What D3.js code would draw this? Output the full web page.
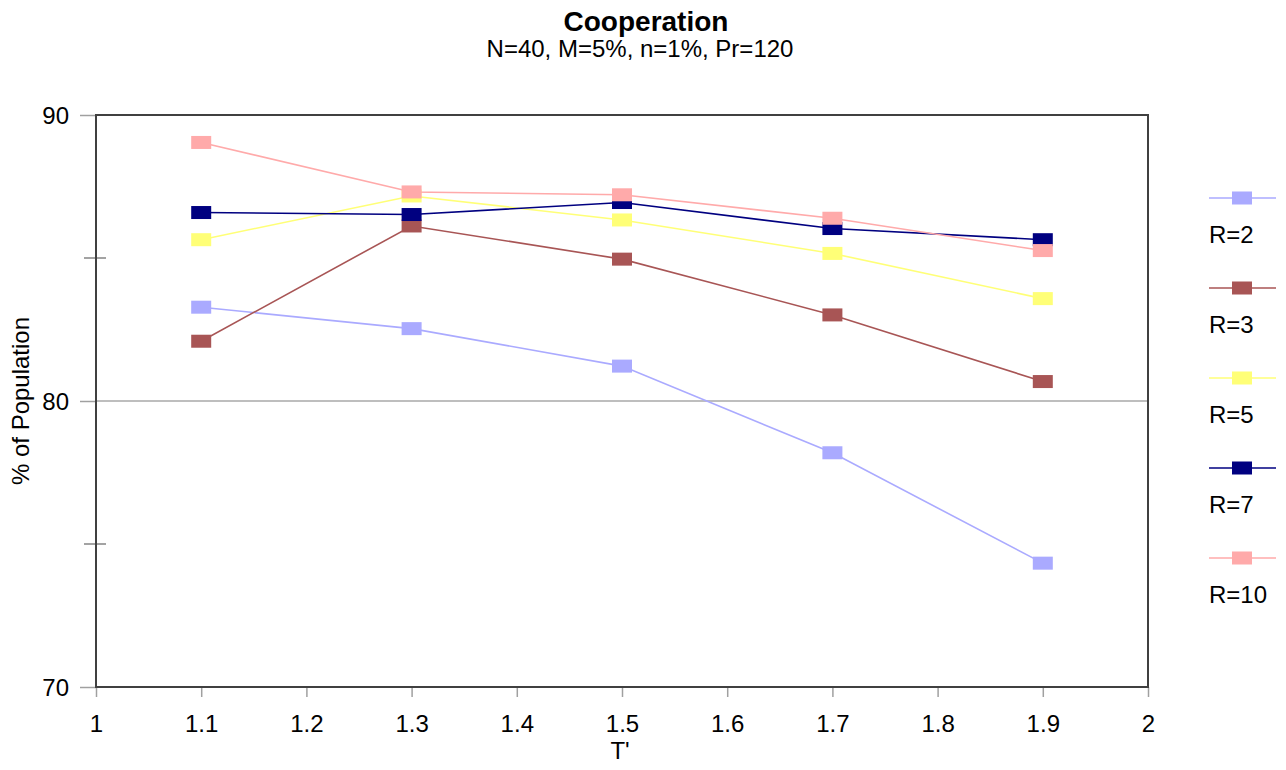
<!DOCTYPE html>
<html>
<head>
<meta charset="utf-8">
<script src="https://cdn.jsdelivr.net/npm/d3@7"></script>
<style>
  html, body { margin: 0; padding: 0; background: #fff; }
  svg { display: block; font-family: "Liberation Sans", Arial, sans-serif; }
</style>
</head>
<body>
<svg id="chart" width="1286" height="770"></svg>
<script>
// T' values on the x axis
const tValues = [1.1, 1.3, 1.5, 1.7, 1.9];

// Cooperation (% of population) for each R
const seriesNames = ["R=2", "R=3", "R=5", "R=7", "R=10"];
const r2  = [83.28, 82.53, 81.22, 78.19, 74.33];
const r3  = [82.09, 86.12, 84.96, 83.01, 80.68];
const r5  = [85.64, 87.17, 86.33, 85.16, 83.58];
const r7  = [86.59, 86.52, 86.94, 86.03, 85.64];
const r10 = [89.04, 87.31, 87.21, 86.39, 85.26];
const seriesColors = ["#aaaaff", "#a85555", "#ffff77", "#000080", "#ffaaaa"];

const xTicks = [1, 1.1, 1.2, 1.3, 1.4, 1.5, 1.6, 1.7, 1.8, 1.9, 2];
const yMajorTicks = [70, 80, 90];
const yMinorTicks = [75, 85];

const FONT = "Liberation Sans, Arial, sans-serif";
const FS = 24;

const series = [r2, r3, r5, r7, r10].map((vals, i) => ({
  name: seriesNames[i],
  color: seriesColors[i],
  points: vals.map((v, j) => ({ t: tValues[j], v }))
}));

const svg = d3.select("#chart");
const plot = { left: 96, top: 115, right: 1148, bottom: 687 };

const x = d3.scaleLinear().domain([1, 2]).range([plot.left, plot.right]);
const y = d3.scaleLinear().domain([70, 90]).range([plot.bottom, plot.top]);

// Titles
svg.append("text")
  .attr("x", 646).attr("y", 31)
  .attr("text-anchor", "middle")
  .attr("font-size", 28).attr("font-weight", "bold")
  .text("Cooperation");
svg.append("text")
  .attr("x", 640).attr("y", 57)
  .attr("text-anchor", "middle")
  .attr("font-size", FS)
  .text("N=40, M=5%, n=1%, Pr=120");

// Gridline at 80
svg.append("line")
  .attr("x1", plot.left).attr("x2", plot.right)
  .attr("y1", y(80)).attr("y2", y(80))
  .attr("stroke", "#a8a8a8").attr("stroke-width", 1.5);

// Y axis ticks and labels
const yAxis = d3.axisLeft(y)
  .tickValues(yMajorTicks)
  .tickSize(16)
  .tickPadding(11)
  .tickFormat(d3.format("d"));
const yg = svg.append("g")
  .attr("transform", `translate(${plot.left},0)`)
  .call(yAxis);
yg.select(".domain").remove();
yg.selectAll(".tick line").attr("stroke", "#a0a0a0").attr("stroke-width", 1.5);
yg.selectAll(".tick text")
  .attr("font-size", FS).attr("fill", "#000")
  .attr("font-family", FONT)
  .attr("dy", "0.35em");

svg.append("g").selectAll("line")
  .data(yMinorTicks)
  .join("line")
  .attr("x1", plot.left - 12).attr("x2", plot.left + 10)
  .attr("y1", d => y(d)).attr("y2", d => y(d))
  .attr("stroke", "#666").attr("stroke-width", 1.2);

// X axis ticks and labels
const xAxis = d3.axisBottom(x)
  .tickValues(xTicks)
  .tickSize(10)
  .tickPadding(18)
  .tickFormat(d => d3.format("")(d));
const xg = svg.append("g")
  .attr("transform", `translate(0,${plot.bottom})`)
  .call(xAxis);
xg.select(".domain").remove();
xg.selectAll(".tick line").attr("stroke", "#a0a0a0").attr("stroke-width", 1.5);
xg.selectAll(".tick text")
  .attr("font-size", FS).attr("fill", "#000")
  .attr("font-family", FONT)
  .attr("dy", "0.71em");

// Plot frame
svg.append("rect")
  .attr("x", plot.left).attr("y", plot.top)
  .attr("width", plot.right - plot.left).attr("height", plot.bottom - plot.top)
  .attr("fill", "none").attr("stroke", "#404040").attr("stroke-width", 2);

// Axis titles
svg.append("text")
  .attr("x", 620).attr("y", 759)
  .attr("text-anchor", "middle")
  .attr("font-size", FS)
  .text("T'");
svg.append("text")
  .attr("transform", `translate(29,${y(80)}) rotate(-90)`)
  .attr("text-anchor", "middle")
  .attr("font-size", FS)
  .text("% of Population");

// Series lines and markers
const line = d3.line().x(d => x(d.t)).y(d => y(d.v));
const mw = 20, mh = 13;

const sg = svg.append("g").selectAll("g")
  .data(series)
  .join("g");
sg.append("path")
  .attr("d", d => line(d.points))
  .attr("fill", "none")
  .attr("stroke", d => d.color)
  .attr("stroke-width", 1.6);
sg.selectAll("rect")
  .data(d => d.points.map(p => ({ ...p, color: d.color })))
  .join("rect")
  .attr("x", d => x(d.t) - mw / 2)
  .attr("y", d => y(d.v) - mh / 2)
  .attr("width", mw).attr("height", mh)
  .attr("fill", d => d.color);

// Legend
const legend = svg.append("g").selectAll("g")
  .data(series)
  .join("g")
  .attr("transform", (d, i) => `translate(1209,${198 + i * 90})`);
legend.append("line")
  .attr("x1", 0).attr("x2", 67)
  .attr("stroke", d => d.color).attr("stroke-width", 1.6);
legend.append("rect")
  .attr("x", 33 - mw / 2).attr("y", -mh / 2)
  .attr("width", mw).attr("height", mh)
  .attr("fill", d => d.color);
legend.append("text")
  .attr("x", 0).attr("y", 45)
  .attr("font-size", FS)
  .text(d => d.name);
</script>
</body>
</html>
